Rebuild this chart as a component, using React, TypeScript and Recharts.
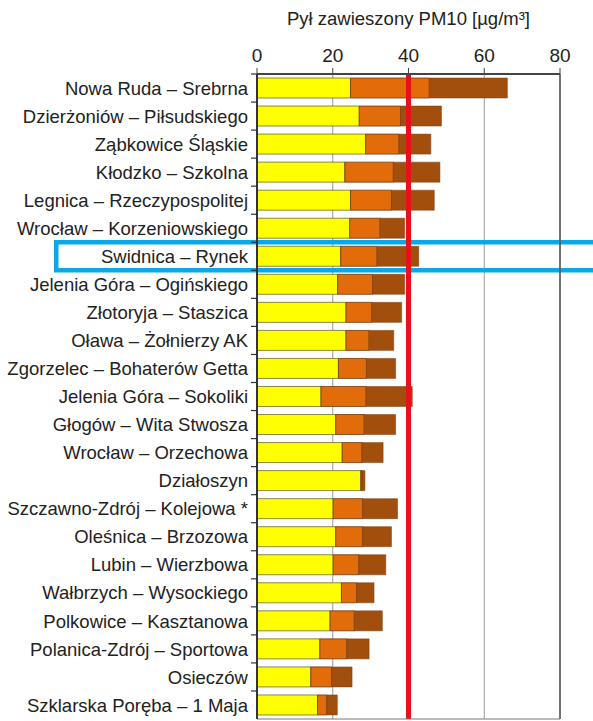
import React from 'react';
import { BarChart, Bar, XAxis, YAxis, CartesianGrid, ReferenceLine, ReferenceArea } from 'recharts';

const stations = [
  'Nowa Ruda – Srebrna',
  'Dzierżoniów – Piłsudskiego',
  'Ząbkowice Śląskie',
  'Kłodzko – Szkolna',
  'Legnica – Rzeczypospolitej',
  'Wrocław – Korzeniowskiego',
  'Swidnica – Rynek',
  'Jelenia Góra – Ogińskiego',
  'Złotoryja – Staszica',
  'Oława – Żołnierzy AK',
  'Zgorzelec – Bohaterów Getta',
  'Jelenia Góra – Sokoliki',
  'Głogów – Wita Stwosza',
  'Wrocław – Orzechowa',
  'Działoszyn',
  'Szczawno-Zdrój – Kolejowa *',
  'Oleśnica – Brzozowa',
  'Lubin – Wierzbowa',
  'Wałbrzych – Wysockiego',
  'Polkowice – Kasztanowa',
  'Polanica-Zdrój – Sportowa',
  'Osieczów',
  'Szklarska Poręba – 1 Maja',
];

// segment lengths, µg/m3 (stacked)
const yellowPart = [24.7, 27.0, 28.7, 23.2, 24.7, 24.5, 22.1, 21.3, 23.5, 23.5, 21.5, 16.9, 20.8, 22.5, 27.4, 20.1, 20.8, 20.1, 22.3, 19.3, 16.6, 14.2, 16.0];
const orangePart = [20.8, 10.9, 8.8, 12.8, 10.8, 8.0, 9.6, 9.2, 6.8, 6.1, 7.4, 11.9, 7.5, 5.2, 0.3, 7.8, 7.1, 6.8, 4.0, 6.4, 7.1, 5.5, 2.4];
const brownPart = [20.6, 10.8, 8.4, 12.3, 11.3, 6.5, 11.0, 8.5, 7.9, 6.5, 7.7, 12.2, 8.3, 5.6, 0.8, 9.2, 7.6, 7.1, 4.6, 7.4, 5.9, 5.4, 2.8];

const xTicks = [0, 20, 40, 60, 80];
const limitValue = 40;
const highlighted = 'Swidnica – Rynek';

const data = stations.map((name, i) => ({
  name,
  a: yellowPart[i],
  b: orangePart[i],
  c: brownPart[i],
}));

const ROW = 28;
const FONT = 'Arial, "Liberation Sans", sans-serif';

const StationTick = (props: any) => {
  const { x, y, payload } = props;
  return (
    <g>
      <line x1={x - 1} x2={x + 6} y1={y - ROW / 2} y2={y - ROW / 2} stroke="#333" strokeWidth={1.2} />
      <text
        x={x - 4}
        y={y}
        dy="0.36em"
        textAnchor="end"
        fontSize={18.5}
        fill="#222"
        fontFamily={FONT}
      >
        {payload.value}
      </text>
    </g>
  );
};

const App: React.FC = () => {
  return (
    <div style={{ position: 'absolute', left: 0, top: 0, width: 593, height: 721, background: '#fff' }}>
      <BarChart
        width={593}
        height={721}
        data={data}
        layout="vertical"
        barSize={20}
        margin={{ top: 10, right: 33, bottom: 1, left: 0 }}
      >
        <CartesianGrid horizontal={false} vertical stroke="#9a9a9a" strokeWidth={1} />
        <XAxis
          type="number"
          orientation="top"
          domain={[0, 80]}
          ticks={xTicks}
          height={64}
          axisLine={{ stroke: '#444', strokeWidth: 2 }}
          tickLine={{ stroke: '#444' }}
          tickSize={6}
          tickMargin={6}
          tick={{ fontSize: 19, fill: '#222', fontFamily: FONT }}
          label={{
            value: 'Pył zawieszony PM10 [µg/m³]',
            position: 'insideTop',
            offset: 2,
            fontSize: 18.5,
            fill: '#222',
            fontFamily: FONT,
          }}
        />
        <XAxis
          xAxisId="bottom"
          type="number"
          orientation="bottom"
          domain={[0, 80]}
          height={1}
          tick={false}
          tickLine={false}
          axisLine={{ stroke: '#777', strokeWidth: 1 }}
        />
        <YAxis
          type="category"
          dataKey="name"
          width={257}
          interval={0}
          tickLine={false}
          tickSize={0}
          tickMargin={5}
          axisLine={{ stroke: '#333', strokeWidth: 2 }}
          tick={<StationTick />}
        />
        <Bar dataKey="a" stackId="s" fill="#ffff00" stroke="#6b6b3a" strokeWidth={0.8} isAnimationActive={false} />
        <Bar dataKey="b" stackId="s" fill="#e36c0a" stroke="#6b3a10" strokeWidth={0.8} isAnimationActive={false} />
        <Bar dataKey="c" stackId="s" fill="#a24e0d" stroke="#7a3a0a" strokeWidth={0.5} isAnimationActive={false} />
        <ReferenceLine x={80} stroke="#555" strokeWidth={1.5} />
        <ReferenceLine x={limitValue} stroke="#e8101a" strokeWidth={5} />
        <ReferenceArea
          y1={highlighted}
          y2={highlighted}
          x1={-53}
          x2={92}
          ifOverflow="visible"
          fill="none"
          stroke="#0aa8e8"
          strokeWidth={4.5}
          fillOpacity={0}
          strokeOpacity={1}
        />
      </BarChart>
    </div>
  );
};

export default App;
